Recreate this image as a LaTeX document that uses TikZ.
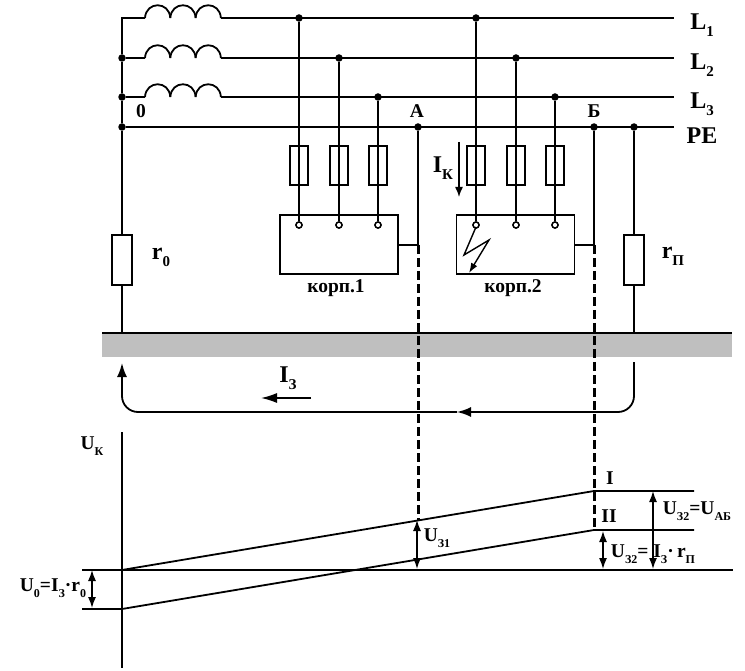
\documentclass[tikz,border=0pt]{standalone}
\usepackage{fontspec}
\setmainfont{Liberation Serif}
\usetikzlibrary{arrows.meta}
\newcommand{\lowidx}[2][15]{\raisebox{-0.3em}{\fontsize{#1}{#1}\selectfont #2}}
\tikzset{
	wire/.style={line width=1.8pt},
	thinwire/.style={line width=1.4pt},
	dot/.style={circle, fill=black, draw=none, inner sep=0pt, minimum size=7.5pt},
	terminal/.style={circle, fill=white, draw=black, line width=1.4pt, inner sep=0pt, minimum size=6pt},
	element/.style={rectangle, draw=black, line width=1.6pt, inner sep=0pt, minimum width=18pt, minimum height=39pt},
	resistor/.style={element, minimum width=20pt, minimum height=50pt},
	housing/.style={rectangle, draw=black, line width=1.6pt, inner sep=0pt, minimum width=118pt, minimum height=59pt},
	lbl/.style={inner sep=0pt, font=\bfseries\fontsize{24}{24}\selectfont},
	smalllbl/.style={inner sep=0pt, font=\bfseries\fontsize{19.5}{19.5}\selectfont},
	projline/.style={line width=2.4pt, dash pattern=on 9pt off 4pt},
	arrowline/.style={thinwire, {Latex[length=11pt,width=8pt]}-{Latex[length=11pt,width=8pt]}},
}
\begin{document}
\begin{tikzpicture}[x=1pt,y=-1pt]
	\useasboundingbox (0,0) rectangle (745,671);
	% ground
	\fill[fill=black!25] (102,334) rectangle (732,357);
	\coordinate (gndL) at (102,333); \coordinate (gndR) at (732,333);
	\draw[wire] (gndL) -- (gndR);
	% bus ends and branch points
	\coordinate (c1a) at (221,18); \coordinate (c2a) at (221,58); \coordinate (c3a) at (221,97);
	\coordinate (c1b) at (145,18); \coordinate (c2b) at (145,58); \coordinate (c3b) at (145,97);
	\coordinate (endL1) at (674,18); \coordinate (endL2) at (674,58);
	\coordinate (endL3) at (674,97); \coordinate (endPE) at (674,127);
	\coordinate (top) at (122,18);
	\node at (122,58) (n2) [dot] {}; \node at (122,97) (n3) [dot] {}; \node at (122,127) (n0) [dot] {};
	\draw[wire] (c1a) -- (endL1); \draw[wire] (c2a) -- (endL2); \draw[wire] (c3a) -- (endL3);
	\draw[wire] (n0) -- (endPE);
	\draw[wire] (c1b) -- (top) -- (n2) -- (n3) -- (n0); \draw[wire] (c2b) -- (n2); \draw[wire] (c3b) -- (n3);
	% coils
	\foreach \y in {18,58,97} {
		\foreach \x in {145,170.3,195.6} {
			\draw[wire] (\x,\y) .. controls (\x+1,\y-17) and (\x+24.3,\y-17) .. (\x+25.3,\y);
		}
	}
	% phases and fuses
	\foreach \x/\y/\n in {299/18/a1,339/58/a2,378/97/a3,476/18/b1,516/58/b2,555/97/b3} {
		\node at (\x,\y) (d\n) [dot] {};
		\node at (\x,225) (t\n) [terminal] {};
		\draw[wire] (d\n) -- (t\n);
		\node at (\x,165.5) (f\n) [element] {};
	}
	% housings
	\node at (339,244.5) (corp1) [housing] {};
	\node at (515.5,244.5) (corp2) [housing] {};
	\foreach \n in {a1,a2,a3,b1,b2,b3} {\node at (t\n) (tt\n) [terminal] {};}
	\node [smalllbl] at (336,288) (corp1txt) {корп.1};
	\node [smalllbl] at (513,288) (corp2txt) {корп.2};
	% PE drops
	\node at (418,127) (A) [dot] {}; \node at (594,127) (B) [dot] {}; \node at (634,127) (P) [dot] {};
	\coordinate (A1) at (418,245); \coordinate (B1) at (594,245);
	\draw[wire] (A) -- (A1) -- (corp1.east |- A1);
	\draw[wire] (B) -- (B1) -- (corp2.east |- B1);
	\coordinate (A2) at (418.5,520); \coordinate (B2) at (594.5,530);
	\draw[projline] (A1 -| A2) -- (A2); \draw[projline] (B1 -| B2) -- (B2);
	% earth resistors
	\node at (122,260) (r0) [resistor] {};
	\node at (634,260) (rp) [resistor] {};
	\draw[wire] (n0) -- (r0); \draw[wire] (r0) -- (122,333);
	\draw[wire] (P) -- (rp); \draw[wire] (rp) -- (634,333);
	% fault
	\coordinate (f1) at (476,227); \coordinate (f2) at (464,255); \coordinate (f3) at (489,240); \coordinate (f4) at (469,273);
	\draw[thinwire, -{Latex[length=10pt,width=7pt]}] (f1) -- (f2) -- (f3) -- (f4);
	% fault current
	\coordinate (Ik1) at (459,142); \coordinate (Ik2) at (459,197);
	\draw[thinwire, -{Latex[length=10pt,width=8pt]}] (Ik1) -- (Ik2);
	% earth current
	\coordinate (e1) at (634,362); \coordinate (e2) at (457,412); \coordinate (e3) at (122,363);
	\draw[wire, rounded corners=16pt, -{Latex[length=14pt,width=10pt]}] (e1) |- (e2);
	\draw[wire, rounded corners=16pt, -{Latex[length=14pt,width=10pt]}] (e2) -| (e3);
	\coordinate (Iz1) at (311,398); \coordinate (Iz2) at (261,398);
	\draw[thinwire, -{Latex[length=16pt,width=10pt]}] (Iz1) -- (Iz2);
	% voltage graph
	\coordinate (ax1) at (122,432); \coordinate (ax2) at (122,668);
	\draw[wire] (ax1) -- (ax2);
	\coordinate (o) at (122,570); \coordinate (oR) at (733,570);
	\coordinate (u) at (122,609); \coordinate (t1) at (82,570); \coordinate (t2) at (82,609);
	\coordinate (i1) at (594,491); \coordinate (i2) at (694,491);
	\coordinate (ii1) at (594,530); \coordinate (ii2) at (694,530);
	\draw[line width=1.1pt] (t1) -- (o); \draw[line width=2.2pt] (o) -- (oR); \draw[line width=1.1pt] (t2) -- (u);
	\draw[wire] (o) -- (i1) -- (i2);
	\draw[wire] (u) -- (ii1) -- (ii2);
	\coordinate (p1) at (92,570); \coordinate (p2) at (92,608);
	\draw[arrowline] (p1) -- (p2);
	\coordinate (p3) at (417,520); \coordinate (p4) at (417,569);
	\draw[arrowline] (p3) -- (p4);
	\coordinate (p5) at (603,531); \coordinate (p6) at (603,569);
	\draw[arrowline] (p5) -- (p6);
	\coordinate (p7) at (653,491); \coordinate (p8) at (653,569);
	\draw[arrowline] (p7) -- (p8);
	% labels
	\node [lbl] at (702,25) (L1) {L\lowidx{1}};
	\node [lbl] at (702,65) (L2) {L\lowidx{2}};
	\node [lbl] at (702,104) (L3) {L\lowidx{3}};
	\node [lbl] at (702,136) (PE) {PE};
	\node [smalllbl] at (141,111) (zero) {0};
	\node [smalllbl] at (417,111) (Atxt) {А};
	\node [smalllbl] at (594,111) (Btxt) {Б};
	\node [lbl] at (443,168) (Ik) {I\lowidx{К}};
	\node [lbl] at (161,257) (r0txt) {r\lowidx{0}};
	\node [lbl] at (673,256) (rptxt) {r\lowidx{П}};
	\node [lbl] at (288,378) (Iz) {I\lowidx{З}};
	\node [smalllbl] at (92,446) (Uk) {U\lowidx[12]{К}};
	\node [smalllbl] at (610,478) (I) {I};
	\node [smalllbl] at (609,516) (II) {II};
	\node [smalllbl] at (697,511) (U32a) {U\lowidx[12]{З2}=U\lowidx[12]{АБ}};
	\node [smalllbl] at (437,538) (U31) {U\lowidx[12]{З1}};
	\node [smalllbl] at (653,554) (U32b) {U\lowidx[12]{З2}= I\lowidx[12]{З}·\,r\lowidx[12]{П}};
	\node [smalllbl] at (53,588) (U0) {U\lowidx[12]{0}=I\lowidx[12]{З}·r\lowidx[12]{0}};
\end{tikzpicture}
\end{document}
